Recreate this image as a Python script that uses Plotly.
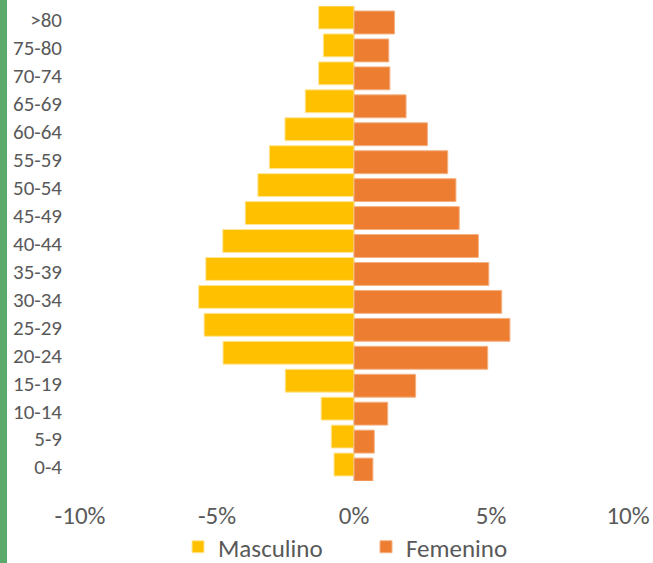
import plotly.graph_objects as go

# Data (bottom to top)
age_groups = ["0-4", "5-9", "10-14", "15-19", "20-24", "25-29", "30-34", "35-39",
              "40-44", "45-49", "50-54", "55-59", "60-64", "65-69", "70-74", "75-80", ">80"]
masculino = [0.73, 0.83, 1.20, 2.51, 4.78, 5.47, 5.67, 5.41,
             4.79, 3.97, 3.51, 3.09, 2.52, 1.78, 1.29, 1.12, 1.29]
femenino = [0.69, 0.74, 1.23, 2.25, 4.88, 5.69, 5.39, 4.92,
            4.54, 3.84, 3.72, 3.42, 2.68, 1.90, 1.31, 1.27, 1.48]
x_tickvals = [-10, -5, 0, 5, 10]
x_ticktext = ["-10%", "-5%", "0%", "5%", "10%"]

FONT = "Calibri, Carlito, Lato, sans-serif"
GRAY = "#595959"

fig = go.Figure()
fig.add_trace(go.Bar(
    y=age_groups, x=[-v for v in masculino], orientation="h", name="Masculino",
    marker=dict(color="#FFC000", line=dict(color="#FFE699", width=1)),
    offset=-0.32, width=0.82,
))
fig.add_trace(go.Bar(
    y=age_groups, x=femenino, orientation="h", name="Femenino",
    marker=dict(color="#ED7D31", line=dict(color="#F4B183", width=1)),
    offset=-0.50, width=0.82,
))

fig.update_layout(
    width=653, height=563,
    margin=dict(l=80, r=25, t=6, b=82, autoexpand=False),
    barmode="overlay",
    plot_bgcolor="white", paper_bgcolor="white",
    font=dict(family=FONT, color=GRAY),
    showlegend=True,
    legend=dict(orientation="h", xref="container", yref="container",
                x=366 / 653, xanchor="center", y=1 - 547 / 563, yanchor="middle",
                font=dict(size=25, color=GRAY), traceorder="normal",
                bgcolor="rgba(0,0,0,0)",
                itemwidth=30, entrywidth=143, entrywidthmode="pixels"),
    xaxis=dict(range=[-10, 10], tickvals=x_tickvals, ticktext=x_ticktext,
               showgrid=False, zeroline=True, zerolinecolor="#D9D9D9", zerolinewidth=2,
               showline=False, ticks="", tickfont=dict(size=25, color=GRAY),
               ticklabelstandoff=17, fixedrange=True, automargin=False),
    yaxis=dict(type="category", categoryorder="array", categoryarray=age_groups,
               range=[-0.5, 16.5], showgrid=False, zeroline=False, showline=False,
               ticks="", tickfont=dict(size=21, color=GRAY), ticklabelstandoff=17,
               automargin=False, fixedrange=True),
    shapes=[dict(type="rect", xref="paper", yref="paper",
                 x0=-80 / 548, x1=-73 / 548, y0=-82 / 475, y1=1 + 6 / 475,
                 fillcolor="#5BAA6B", line=dict(width=0), layer="above")],
)

fig.write_html("out.html", config={"displayModeBar": False},
               post_script="document.body.style.margin='0px';")
